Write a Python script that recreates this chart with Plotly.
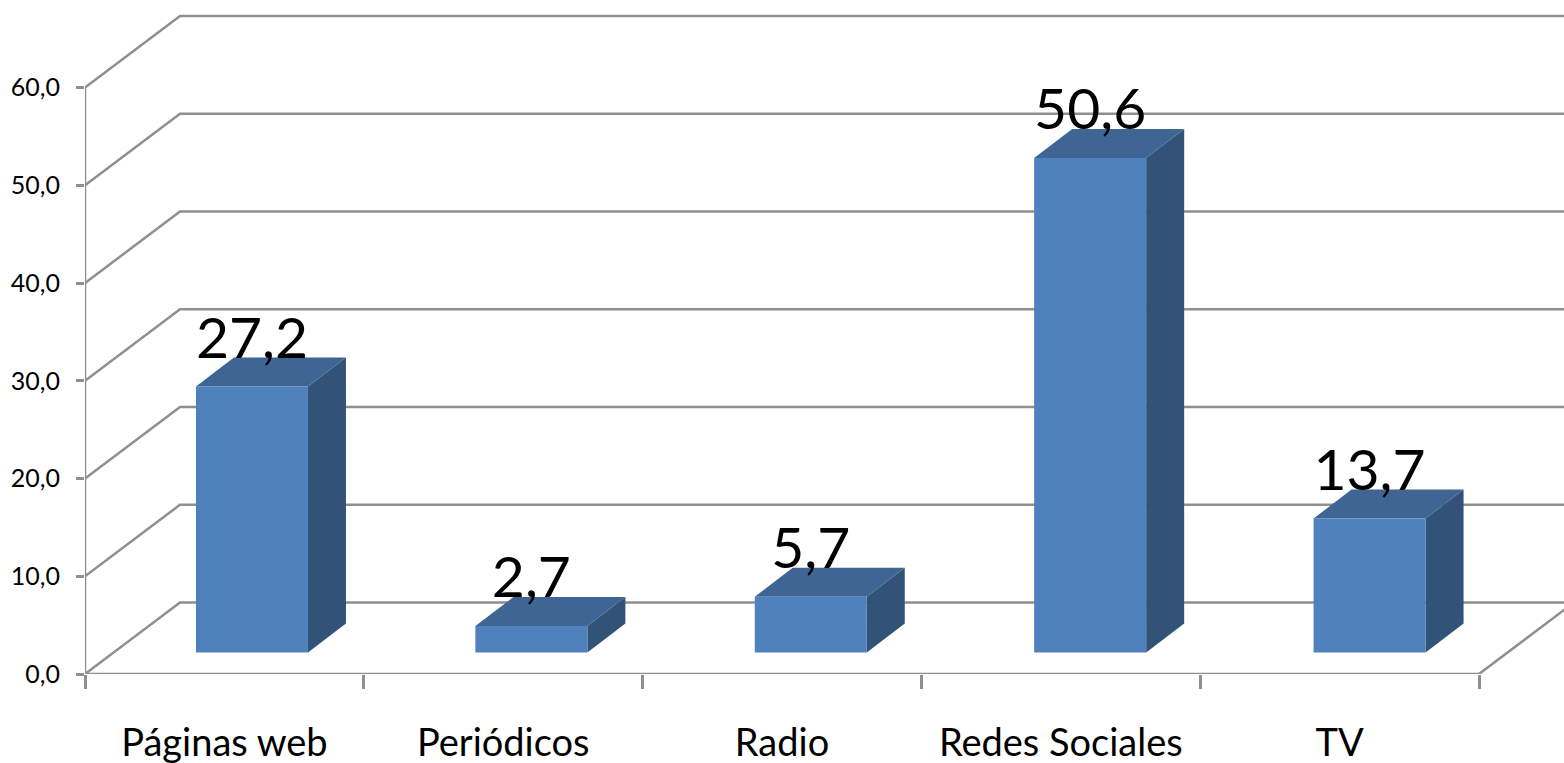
import plotly.graph_objects as go

categories = ["Páginas web", "Periódicos", "Radio", "Redes Sociales", "TV"]
values = [27.2, 2.7, 5.7, 50.6, 13.7]
value_labels = ["27,2", "2,7", "5,7", "50,6", "13,7"]
y_ticks = [0, 10, 20, 30, 40, 50, 60]
y_tick_labels = ["0,0", "10,0", "20,0", "30,0", "40,0", "50,0", "60,0"]

GRID = "#8f8f8f"
FRONT = "#4f81bd"
TOP = "#3e6593"
SIDE = "#325378"
FONT = "Lato"

W, H = 1564, 763
ML, MB = 85, 89
PX_X = 278.8
PX_Y = 9.775
X_MAX = (W - ML) / PX_X
Y_MAX = (H - MB) / PX_Y

WALL_DX, WALL_DY = 95 / PX_X, 71.5 / PX_Y
BAR_DX, BAR_DY = 38 / PX_X, 29 / PX_Y
BAR_BASE = 21.5 / PX_Y
BAR_OFFSET = 0.398
BAR_STEP = 279.4 / PX_X
BAR_W = 112 / PX_X
LABEL_UP = 43 / PX_Y

fig = go.Figure()


def line(xs, ys):
    fig.add_trace(go.Scatter(x=xs, y=ys, mode="lines", cliponaxis=False,
                             line=dict(color=GRID, width=2.5),
                             hoverinfo="skip", showlegend=False))


def poly(xs, ys, color):
    fig.add_trace(go.Scatter(x=xs, y=ys, mode="lines", fill="toself",
                             fillcolor=color, line=dict(width=0),
                             hoverinfo="skip", showlegend=False))


n = len(categories)
for t in y_ticks:
    line([0, WALL_DX, X_MAX], [t, t + WALL_DY, t + WALL_DY])
line([0, 0], [0, y_ticks[-1]])
line([0, n], [0, 0])
line([n, n + WALL_DX], [0, WALL_DY])

for i, v in enumerate(values):
    x0 = i * BAR_STEP + BAR_OFFSET
    x1 = x0 + BAR_W
    top = BAR_BASE + v
    poly([x1, x1 + BAR_DX, x1 + BAR_DX, x1],
         [BAR_BASE, BAR_BASE + BAR_DY, top + BAR_DY, top], SIDE)
    poly([x0, x1, x1 + BAR_DX, x0 + BAR_DX],
         [top, top, top + BAR_DY, top + BAR_DY], TOP)
    poly([x0, x1, x1, x0], [BAR_BASE, BAR_BASE, top, top], FRONT)

fig.add_trace(go.Scatter(
    x=[i * BAR_STEP + BAR_OFFSET + BAR_W / 2 for i in range(n)],
    y=[BAR_BASE + v + LABEL_UP for v in values],
    text=value_labels, mode="text", textposition="middle center",
    textfont=dict(family=FONT, size=57, color="#000000"),
    cliponaxis=False, hoverinfo="skip", showlegend=False))

fig.update_layout(
    width=W, height=H, margin=dict(l=ML, r=0, t=0, b=MB),
    paper_bgcolor="white", plot_bgcolor="white", showlegend=False,
    xaxis=dict(range=[0, X_MAX], showgrid=False, zeroline=False, showline=False,
               automargin=False,
               tickmode="array", tickvals=[i + 0.5 for i in range(n)],
               ticktext=categories, ticks="outside", ticklen=35,
               tickcolor="rgba(0,0,0,0)",
               tickfont=dict(family=FONT, size=38, color="#000000"),
               minor=dict(ticks="outside", tick0=0, dtick=1, ticklen=14,
                          tickwidth=2.5, tickcolor=GRID, showgrid=False)),
    yaxis=dict(range=[0, Y_MAX], showgrid=False, zeroline=False, showline=False,
               automargin=False,
               tickmode="array", tickvals=y_ticks, ticktext=y_tick_labels,
               ticks="outside", ticklen=8, tickwidth=2.5, tickcolor=GRID,
               ticklabelstandoff=11,
               tickfont=dict(family=FONT, size=25, color="#000000")),
)
fig.write_html("out.html", config={"displayModeBar": False},
               post_script="document.body.style.margin='0';document.body.style.overflow='hidden';")
